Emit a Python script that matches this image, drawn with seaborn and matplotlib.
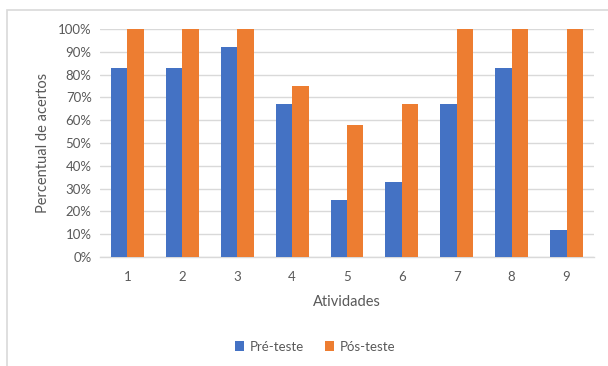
import pandas as pd
import matplotlib.pyplot as plt
import seaborn as sns
from matplotlib.patches import Rectangle
from matplotlib.ticker import PercentFormatter

sns.set_style('white')
plt.rcParams['font.family'] = ['Lato', 'DejaVu Sans']

# data
atividades = ['1', '2', '3', '4', '5', '6', '7', '8', '9']
pre_teste  = [83, 83, 92, 67, 25, 33, 67, 83, 12]
pos_teste  = [100, 100, 100, 75, 58, 67, 100, 100, 100]
series     = ['Pré-teste', 'Pós-teste']

df = pd.DataFrame({'Atividades': atividades * 2,
                   'valor': pre_teste + pos_teste,
                   'serie': [series[0]] * 9 + [series[1]] * 9})

fig = plt.figure(figsize=(6.08, 3.66), dpi=100)
ax = fig.add_axes([0.1645, 0.298, 0.8125, 0.623])

# chart border (Excel style, cut at right/bottom)
fig.patches.append(Rectangle((7/608, -0.1), 1.2, 1 - 10/366 + 0.1, transform=fig.transFigure,
                             fill=False, edgecolor='#d9d9d9', linewidth=1.2, zorder=0))

grey = '#595959'
sns.barplot(data=df, x='Atividades', y='valor', hue='serie',
            palette=['#4472C4', '#ED7D31'], width=0.6, saturation=1,
            linewidth=0, ax=ax, zorder=3)

ax.set_ylim(0, 100)
ax.set_xlim(-0.5, 8.5)
ax.set_yticks(range(0, 101, 10))
ax.yaxis.set_major_formatter(PercentFormatter(decimals=0))
ax.grid(axis='y', color='#d9d9d9', linewidth=1, zorder=0)
ax.set_axisbelow(True)
for s in ['top', 'right', 'left']:
    ax.spines[s].set_visible(False)
ax.spines['bottom'].set_color('#d9d9d9')
ax.spines['bottom'].set_linewidth(1)
ax.tick_params(axis='both', length=0, labelsize=9.5, colors=grey, pad=6)
ax.tick_params(axis='x', pad=10)
ax.set_xlabel('Atividades', fontsize=10.5, color=grey, labelpad=9)
ax.set_ylabel('Percentual de acertos', fontsize=10.5, color=grey, labelpad=6)

ax.legend(loc='upper center', bbox_to_anchor=(0.435, -0.315), ncol=2, frameon=False,
          fontsize=9.5, labelcolor=grey, handlelength=0.7, handleheight=0.7,
          handletextpad=0.4, columnspacing=1.6)

fig.savefig('out.png', dpi=100)
